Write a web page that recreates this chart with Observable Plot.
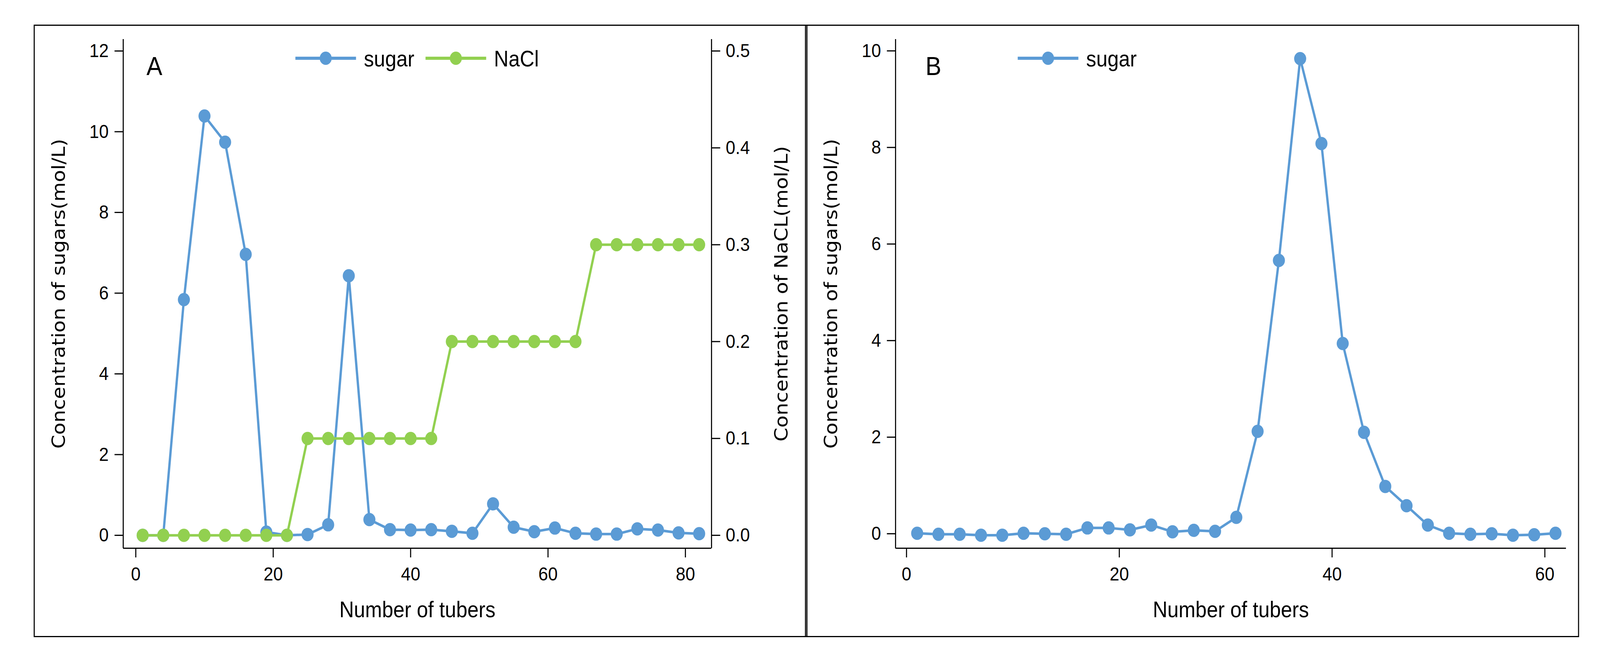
<!DOCTYPE html>
<html>
<head>
<meta charset="utf-8">
<script src="https://cdn.jsdelivr.net/npm/d3@7"></script>
<script src="https://cdn.jsdelivr.net/npm/@observablehq/plot@0.6"></script>
<style>
html, body { margin: 0; padding: 0; background: #fff; overflow: hidden; }
#wrap { position: relative; overflow: hidden; width: 4512px; height: 1691px; }
#fig { position: absolute; left: 0; top: 0; width: 4512px; height: 1691px; overflow: hidden; background: #fff; transform-origin: 0 0; font-family: "Liberation Sans", Arial, sans-serif; }
.slot { position: absolute; top: 0; }
.box { position: absolute; border: 3px solid #000; box-sizing: border-box; pointer-events: none; }
#overlay { position: absolute; left: 0; top: 0; }
</style>
</head>
<body>
<div id="wrap">
<div id="fig">
  <div id="slotA" class="slot" style="left:0px;width:2272px;height:1691px"></div>
  <div id="slotB" class="slot" style="left:2272px;width:2240px;height:1691px"></div>
  <div class="box" style="left:95px;top:63px;width:2182px;height:1567px"></div>
  <div class="box" style="left:2270px;top:63px;width:2183px;height:1567px"></div>
  <svg id="overlay" width="4512" height="1691" font-family="Liberation Sans, Arial, sans-serif">
    <text x="413" y="192" font-size="67" fill="#000">A</text>
    <text x="2610" y="192" font-size="67" fill="#000">B</text>
    <g id="legA"></g>
    <g id="legB"></g>
  </svg>
</div>
</div>
<script>
// ---------------- data ----------------
// Panel A: tubes 1..82 (every 3rd collected)
const xA = [1, 4, 7, 10, 13, 16, 19, 22, 25, 28, 31, 34, 37, 40, 43, 46, 49, 52, 55, 58, 61, 64, 67, 70, 73, 76, 79, 82];
const sugarA = [0, 0, 5.84, 10.39, 9.74, 6.96, 0.08, 0.0, 0.02, 0.26, 6.43, 0.39, 0.14, 0.13, 0.14, 0.10, 0.05, 0.78, 0.20, 0.09, 0.18, 0.05, 0.03, 0.03, 0.16, 0.13, 0.06, 0.04];
const naclA = [0, 0, 0, 0, 0, 0, 0, 0, 0.1, 0.1, 0.1, 0.1, 0.1, 0.1, 0.1, 0.2, 0.2, 0.2, 0.2, 0.2, 0.2, 0.2, 0.3, 0.3, 0.3, 0.3, 0.3, 0.3];
// Panel B: tubes 1..61 (every 2nd collected)
const xB = [1, 3, 5, 7, 9, 11, 13, 15, 17, 19, 21, 23, 25, 27, 29, 31, 33, 35, 37, 39, 41, 43, 45, 47, 49, 51, 53, 55, 57, 59, 61];
const sugarB = [0.01, -0.01, -0.01, -0.03, -0.03, 0.01, 0.0, -0.01, 0.12, 0.12, 0.08, 0.18, 0.04, 0.07, 0.05, 0.34, 2.12, 5.66, 9.84, 8.08, 3.94, 2.10, 0.98, 0.58, 0.18, 0.01, -0.01, 0.0, -0.03, -0.02, 0.01];

// tick labels
const xTicksA = [0, 20, 40, 60, 80];
const yTicksA = [0, 2, 4, 6, 8, 10, 12];
const naclTicks = [0, 0.1, 0.2, 0.3, 0.4, 0.5];
const xTicksB = [0, 20, 40, 60];
const yTicksB = [0, 2, 4, 6, 8, 10];

// series names
const seriesNames = ["sugar", "NaCl"];

// ---------------- styles ----------------
const BLUE = "#5B9BD5";
const GREEN = "#92D050";
const LINE_W = 6.5;
const DOT_R = 17;
const AXIS_W = 3;

const xDomainA = [-1.83, 83.8];
const yDomainA = [-0.32, 12.29];
const sugarMaxA = 12, naclMaxA = 0.5;
const ratio = sugarMaxA / naclMaxA; // NaCl values drawn on the sugar scale

const xDomainB = [-1.03, 62.0];
const yDomainB = [-0.30, 10.24];

const baseStyle = {
  background: "none",
  fontFamily: "Liberation Sans, Arial, sans-serif",
  fontSize: "49px",
  color: "#000",
  overflow: "visible",
  maxWidth: "none"
};

function styleLabels(svg) {
  svg.querySelectorAll('[aria-label="y-axis label"]').forEach(g => {
    g.setAttribute("font-family", "DejaVu Sans, Verdana, sans-serif");
    g.setAttribute("font-size", "51");
    g.style.fontFamily = "'DejaVu Sans', Verdana, sans-serif";
    g.style.fontSize = "51px";
  });
  svg.querySelectorAll('[aria-label="x-axis label"]').forEach(g => {
    g.setAttribute("font-size", "57");
    g.style.fontSize = "57px";
  });
}

// ---------------- panel A ----------------
const dataA = xA.map((x, i) => ({x, sugar: sugarA[i], nacl: naclA[i]}));

const plotA = Plot.plot({
  width: 2272,
  height: 1691,
  marginLeft: 347,
  marginRight: 266,
  marginTop: 100,
  marginBottom: 289,
  style: baseStyle,
  x: {domain: xDomainA},
  y: {domain: yDomainA},
  marks: [
    Plot.ruleX([xDomainA[0], xDomainA[1]], {stroke: "#000", strokeWidth: AXIS_W}),
    Plot.ruleY([yDomainA[0]], {stroke: "#000", strokeWidth: AXIS_W}),
    Plot.axisX({ticks: xTicksA, tickSize: 24, tickPadding: 24, strokeWidth: AXIS_W,
      label: "Number of tubers", labelAnchor: "center", labelOffset: 176, labelArrow: "none"}),
    Plot.axisY({anchor: "left", ticks: yTicksA, tickSize: 24, tickPadding: 17, strokeWidth: AXIS_W,
      label: "Concentration of sugars(mol/L)", labelAnchor: "center", labelOffset: 201, labelArrow: "none"}),
    Plot.axisY({anchor: "right", ticks: naclTicks.map(v => v * ratio), tickFormat: d => (d / ratio).toFixed(1),
      tickSize: 24, tickPadding: 16, strokeWidth: AXIS_W,
      label: "Concentration of NaCL(mol/L)", labelAnchor: "center", labelOffset: 214, labelArrow: "none"}),
    Plot.line(dataA, {x: "x", y: "sugar", stroke: BLUE, strokeWidth: LINE_W}),
    Plot.dot(dataA, {x: "x", y: "sugar", r: DOT_R, fill: BLUE}),
    Plot.line(dataA, {x: "x", y: d => d.nacl * ratio, stroke: GREEN, strokeWidth: LINE_W}),
    Plot.dot(dataA, {x: "x", y: d => d.nacl * ratio, r: DOT_R, fill: GREEN})
  ]
});
styleLabels(plotA);
document.getElementById("slotA").appendChild(plotA);

// ---------------- panel B ----------------
const dataB = xB.map((x, i) => ({x, sugar: sugarB[i]}));

const plotB = Plot.plot({
  width: 2240,
  height: 1691,
  marginLeft: 253,
  marginRight: 96,
  marginTop: 100,
  marginBottom: 289,
  style: baseStyle,
  x: {domain: xDomainB},
  y: {domain: yDomainB},
  marks: [
    Plot.ruleX([xDomainB[0]], {stroke: "#000", strokeWidth: AXIS_W}),
    Plot.ruleY([yDomainB[0]], {stroke: "#000", strokeWidth: AXIS_W}),
    Plot.axisX({ticks: xTicksB, tickSize: 24, tickPadding: 24, strokeWidth: AXIS_W,
      label: "Number of tubers", labelAnchor: "center", labelOffset: 176, labelArrow: "none"}),
    Plot.axisY({anchor: "left", ticks: yTicksB, tickSize: 24, tickPadding: 17, strokeWidth: AXIS_W,
      label: "Concentration of sugars(mol/L)", labelAnchor: "center", labelOffset: 201, labelArrow: "none"}),
    Plot.line(dataB, {x: "x", y: "sugar", stroke: BLUE, strokeWidth: LINE_W}),
    Plot.dot(dataB, {x: "x", y: "sugar", r: DOT_R, fill: BLUE})
  ]
});
styleLabels(plotB);
document.getElementById("slotB").appendChild(plotB);

// ---------------- legends (line + marker swatches) ----------------
const NS = "http://www.w3.org/2000/svg";
function legendItem(g, x0, name, color) {
  const y = 149, len = 171;
  const line = document.createElementNS(NS, "line");
  line.setAttribute("x1", x0); line.setAttribute("x2", x0 + len);
  line.setAttribute("y1", y); line.setAttribute("y2", y);
  line.setAttribute("stroke", color); line.setAttribute("stroke-width", 8);
  g.appendChild(line);
  const c = document.createElementNS(NS, "circle");
  c.setAttribute("cx", x0 + len / 2); c.setAttribute("cy", y); c.setAttribute("r", DOT_R);
  c.setAttribute("fill", color);
  g.appendChild(c);
  const t = document.createElementNS(NS, "text");
  t.setAttribute("x", x0 + len + 22); t.setAttribute("y", y + 21);
  t.setAttribute("font-size", 57); t.setAttribute("fill", "#000");
  t.textContent = name;
  g.appendChild(t);
}
const legA = document.getElementById("legA");
legendItem(legA, 833, seriesNames[0], BLUE);
legendItem(legA, 1200, seriesNames[1], GREEN);
legendItem(document.getElementById("legB"), 2870, seriesNames[0], BLUE);

// ---------------- fit the 4512x1691 figure to the whole viewport ----------------
function fit() {
  const vw = document.documentElement.clientWidth || window.innerWidth || 4512;
  let vh = document.documentElement.clientHeight || window.innerHeight;
  const sx = vw / 4512;
  let sy = vh && vh > 100 ? vh / 1691 : sx;
  const fig = document.getElementById("fig");
  const wrap = document.getElementById("wrap");
  fig.style.transform = (Math.abs(sx - 1) > 0.002 || Math.abs(sy - 1) > 0.002) ? `scale(${sx}, ${sy})` : "";
  wrap.style.width = (4512 * sx) + "px";
  wrap.style.height = (1691 * sy) + "px";
}
fit();
window.addEventListener("resize", fit);
</script>
</body>
</html>
